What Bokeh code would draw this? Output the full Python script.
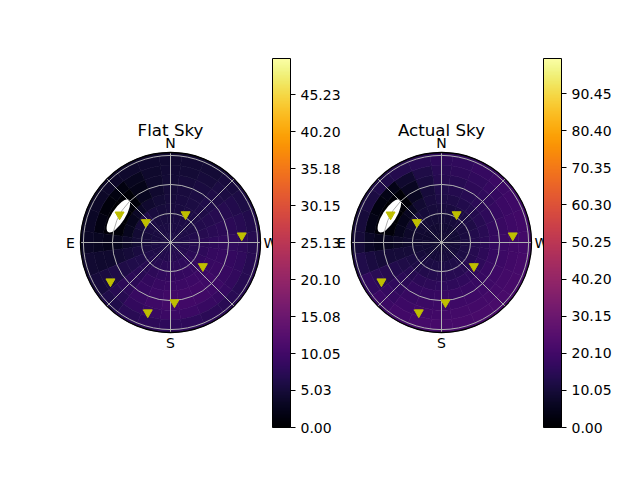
import numpy as np
from bokeh.plotting import figure
from bokeh.models import (LinearColorMapper, ColorBar, FixedTicker,
                          PrintfTickFormatter, ColumnDataSource)
from bokeh.palettes import Inferno256
from bokeh.core.properties import value
from bokeh.embed import file_html
from bokeh.resources import INLINE

# ---------------- data ----------------
titles = ["Flat Sky", "Actual Sky"]
# azimuth sector centres (deg from N, through E) and zenith-angle ring edges
az_centers = [0, 15, 30, 45, 60, 75, 90, 105, 120, 135, 150, 165,
              180, 195, 210, 225, 240, 255, 270, 285, 300, 315, 330, 345]
zen_edges = [0, 10, 20, 30, 40, 50, 60, 70, 80, 93]

flat_sky = [
    [6.0, 6.0, 6.0, 5.8, 5.8, 5.8, 5.8, 5.9, 6.0, 6.1, 6.2, 6.3, 6.3, 6.4, 6.4, 6.4, 6.3, 6.3, 6.2, 6.1, 6.0, 6.0, 6.0, 6.0],
    [5.8, 5.8, 5.8, 5.8, 5.6, 5.6, 5.7, 5.9, 6.2, 6.4, 6.6, 6.8, 6.9, 7.0, 7.0, 7.0, 6.9, 6.7, 6.5, 6.3, 6.1, 6.0, 5.9, 5.8],
    [5.6, 5.5, 5.6, 6.0, 5.5, 5.2, 5.4, 5.8, 6.3, 6.8, 7.2, 7.5, 7.6, 7.8, 7.9, 7.9, 7.6, 7.2, 6.9, 6.5, 6.2, 6.0, 5.9, 5.7],
    [5.4, 5.2, 5.4, 6.4, 5.0, 4.6, 4.8, 5.6, 6.4, 7.2, 7.8, 8.2, 8.4, 8.6, 8.8, 8.8, 8.4, 8.0, 7.5, 7.0, 6.5, 6.1, 5.8, 5.6],
    [5.2, 4.8, 4.2, 3.4, 2.6, 2.8, 3.8, 5.0, 6.3, 7.4, 8.3, 8.9, 9.2, 9.4, 9.5, 9.4, 9.0, 8.5, 8.0, 7.4, 6.8, 6.2, 5.8, 5.5],
    [5.0, 4.3, 2.8, 0.8, 0.2, 0.8, 2.8, 4.6, 6.2, 7.6, 8.7, 9.4, 9.8, 9.9, 9.9, 9.7, 9.2, 8.7, 8.2, 7.6, 7.0, 6.3, 5.7, 5.4],
    [4.8, 4.0, 2.2, 0.4, 0.0, 0.6, 2.4, 4.3, 6.2, 7.7, 8.9, 9.7, 10.2, 10.0, 9.8, 9.5, 9.0, 8.6, 8.2, 7.6, 6.9, 6.2, 5.5, 5.1],
    [4.6, 4.0, 2.8, 1.4, 1.0, 1.6, 3.0, 4.2, 5.6, 7.2, 8.4, 9.0, 9.3, 9.3, 9.0, 8.7, 8.4, 8.1, 7.8, 7.2, 6.5, 5.8, 5.2, 4.8],
    [4.5, 4.3, 4.0, 3.8, 3.6, 3.4, 3.4, 4.4, 5.2, 6.4, 7.3, 7.8, 8.0, 7.9, 7.6, 7.4, 7.2, 7.1, 7.0, 6.6, 6.0, 5.3, 4.8, 4.6],
]
actual_sky = [
    [8.5, 8.5, 8.4, 8.3, 8.3, 8.3, 8.4, 8.5, 8.6, 8.7, 8.8, 8.9, 8.9, 9.0, 9.0, 9.0, 8.9, 8.8, 8.7, 8.6, 8.6, 8.5, 8.5, 8.5],
    [9.0, 8.9, 8.8, 8.6, 8.4, 8.4, 8.6, 9.0, 9.4, 9.7, 10.0, 10.2, 10.3, 10.4, 10.4, 10.4, 10.3, 10.1, 9.9, 9.7, 9.5, 9.3, 9.2, 9.1],
    [9.8, 9.6, 9.4, 9.6, 8.8, 8.4, 8.8, 9.6, 10.4, 11.0, 11.5, 11.8, 12.0, 12.1, 12.2, 12.2, 12.0, 11.8, 11.5, 11.2, 10.9, 10.6, 10.3, 10.0],
    [10.8, 10.3, 10.0, 10.6, 8.6, 7.6, 8.4, 10.0, 11.4, 12.4, 13.2, 13.6, 13.9, 14.1, 14.2, 14.2, 14.0, 13.7, 13.3, 12.9, 12.4, 11.9, 11.5, 11.1],
    [11.8, 10.6, 8.6, 6.0, 5.0, 5.4, 7.4, 10.0, 12.4, 13.9, 14.9, 15.5, 15.8, 16.0, 16.1, 16.1, 15.9, 15.6, 15.2, 14.7, 14.1, 13.5, 12.9, 12.3],
    [12.8, 10.5, 6.0, 1.5, 0.6, 1.8, 6.0, 9.8, 13.0, 15.2, 16.5, 17.2, 17.6, 17.8, 17.9, 17.9, 17.7, 17.4, 17.0, 16.5, 15.8, 15.0, 14.2, 13.4],
    [13.8, 11.0, 6.0, 1.0, 0.0, 1.4, 5.4, 10.0, 13.8, 16.4, 17.9, 18.7, 19.1, 19.3, 19.4, 19.4, 19.2, 18.9, 18.5, 18.0, 17.2, 16.3, 15.3, 14.4],
    [14.8, 12.4, 8.5, 4.0, 3.0, 4.0, 7.0, 11.0, 14.8, 17.4, 19.0, 19.9, 20.3, 20.5, 20.6, 20.6, 20.4, 20.1, 19.7, 19.2, 18.4, 17.4, 16.3, 15.4],
    [15.8, 14.5, 13.5, 12.5, 11.5, 10.5, 10.0, 12.5, 16.2, 18.6, 20.0, 20.8, 21.2, 21.4, 21.5, 21.5, 21.3, 21.0, 20.7, 20.2, 19.5, 18.5, 17.4, 16.4],
]
maps = [flat_sky, actual_sky]

sat_az = [61.3, 50.6, 331.8, 275.6, 233.7, 123.0, 183.8, 162.0]
sat_el = [30.0, 57.0, 57.0, 16.0, 48.5, 16.0, 28.0, 14.0]
sun_az = 63.0
sun_el = 29.5

cbar_high = [50.15, 100.0]
cbar_ticks = [
    [0.00, 5.03, 10.05, 15.08, 20.10, 25.13, 30.15, 35.18, 40.20, 45.23],
    [0.00, 10.05, 20.10, 30.15, 40.20, 50.25, 60.30, 70.35, 80.40, 90.45],
]
compass = ["N", "E", "S", "W"]
compass_az = [0, 90, 180, 270]
grid_zen = [30, 60, 90]
spoke_az = [0, 45, 90, 135, 180, 225, 270, 315]

# ---------------- layout (pixels) ----------------
W, H = 640, 480
R_MAX = 93.0                 # outer zenith radius of the disc
k = 90.0 / R_MAX             # px per unit
cx_px = [170, 441]           # disc centres in canvas px (from left)
cy_px = 242                  # from top
cbar_left_px = [272, 543]
cbar_bottom_px = 427

x0 = -cx_px[0] / k
y0 = -(H - cy_px) / k
p = figure(width=W, height=H, x_range=(x0, x0 + W / k), y_range=(y0, y0 + H / k),
           output_backend="svg", toolbar_location=None, min_border=0)
p.axis.visible = False
p.grid.visible = False
p.outline_line_color = None
p.background_fill_color = "white"
p.border_fill_color = "white"


def polar_xy(cx, cy, az, zen):
    a = np.radians(90.0 + np.asarray(az, dtype=float))
    z = np.asarray(zen, dtype=float)
    return cx + z * np.cos(a), cy + z * np.sin(a)


font = value("DejaVu Sans")
half = (az_centers[1] - az_centers[0]) / 2.0

for i in range(2):
    cx = (cx_px[i] - cx_px[0]) / k
    cy = 0.0
    mapper = LinearColorMapper(palette=Inferno256, low=0, high=cbar_high[i])

    # heat map cells
    xs, ys, ri, ro, sa, ea, vals = [], [], [], [], [], [], []
    for j in range(len(zen_edges) - 1):
        for m, azc in enumerate(az_centers):
            xs.append(cx); ys.append(cy)
            ri.append(zen_edges[j]); ro.append(zen_edges[j + 1])
            sa.append(np.radians(90 + azc - half)); ea.append(np.radians(90 + azc + half))
            vals.append(maps[i][j][m])
    src = ColumnDataSource(dict(x=xs, y=ys, ri=ri, ro=ro, sa=sa, ea=ea, v=vals))
    p.annular_wedge(x="x", y="y", inner_radius="ri", outer_radius="ro",
                    start_angle="sa", end_angle="ea", source=src,
                    fill_color={"field": "v", "transform": mapper},
                    line_color={"field": "v", "transform": mapper}, line_width=0.6)

    # masked region around the sun
    sx, sy = polar_xy(cx, cy, [sun_az], [90 - sun_el])
    p.ellipse(x=sx, y=sy, width=39.5, height=14,
              angle=np.radians(sun_az - 5.5), fill_color="white", line_color=None)

    # grid
    p.circle(x=[cx] * len(grid_zen), y=[cy] * len(grid_zen), radius=grid_zen,
             fill_color=None, line_color="#b0b0b0", line_width=1.0)
    ex, ey = polar_xy(cx, cy, spoke_az, [R_MAX] * len(spoke_az))
    p.segment(x0=[cx] * len(spoke_az), y0=[cy] * len(spoke_az), x1=ex, y1=ey,
              line_color="#b0b0b0", line_width=1.0)
    p.circle(x=[cx], y=[cy], radius=R_MAX, fill_color=None,
             line_color="black", line_width=1.3)

    # satellites
    mx, my = polar_xy(cx, cy, sat_az, 90 - np.asarray(sat_el))
    p.scatter(mx, my, marker="inverted_triangle", size=9,
              fill_color="#bfbf00", line_color="#bfbf00")

    # compass labels
    lx, ly = polar_xy(cx, cy, compass_az, [100 / k] * 4)
    p.text(lx, ly, text=compass, text_font=font, text_font_size="14px",
           text_align="center", text_baseline="middle", text_color="black")

    # title
    p.text([cx], [cy + 113 / k], text=[titles[i]], text_font=font,
           text_font_size="16.7px", text_align="center",
           text_baseline="middle", text_color="black")

    cb = ColorBar(color_mapper=mapper, ticker=FixedTicker(ticks=cbar_ticks[i]),
                  formatter=PrintfTickFormatter(format="%.2f"),
                  width=18, height=369, location=(cbar_left_px[i], H - cbar_bottom_px),
                  padding=0, margin=0, orientation="vertical",
                  bar_line_color="black", bar_line_width=1,
                  major_tick_line_color="black", major_tick_out=5, major_tick_in=0,
                  minor_tick_line_color=None,
                  major_label_text_font="DejaVu Sans",
                  major_label_text_color="black",
                  major_label_text_font_size="14px", label_standoff=5,
                  background_fill_color=None, border_line_color=None)
    p.add_layout(cb, "center")

open("out.html", "w").write(file_html(p, INLINE))
